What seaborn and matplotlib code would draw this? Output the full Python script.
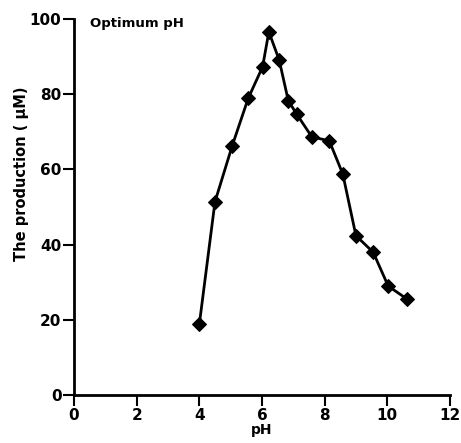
import matplotlib
matplotlib.use("Agg")
import matplotlib.pyplot as plt
import seaborn as sns
import pandas as pd

# valores
ph = [4.0, 4.5, 5.05, 5.56, 6.02, 6.22, 6.55, 6.84, 7.11, 7.59, 8.15, 8.58, 9.0, 9.55, 10.03, 10.64]
produccion = [18.8, 51.4, 66.3, 78.9, 87.3, 96.6, 89.1, 78.3, 74.7, 68.7, 67.6, 58.8, 42.4, 38.0, 29.0, 25.5]

x_ticks = [0, 2, 4, 6, 8, 10, 12]
y_ticks = [0, 20, 40, 60, 80, 100]

df = pd.DataFrame({"pH": ph, "produccion": produccion})

sns.set_style("ticks")
plt.rcParams['font.family'] = ['DejaVu Sans']
plt.rcParams['font.weight'] = 'bold'
plt.rcParams['text.color'] = 'black'
plt.rcParams['axes.labelcolor'] = 'black'
plt.rcParams['xtick.color'] = 'black'
plt.rcParams['ytick.color'] = 'black'

fig = plt.figure(figsize=(4.61, 4.43), dpi=100)
ax = fig.add_axes([0.1605, 0.108, 0.8155, 0.849])

sns.lineplot(data=df, x="pH", y="produccion", ax=ax, color="black",
             linewidth=2, marker="D", markersize=7, markeredgecolor="black",
             markerfacecolor="black")

ax.set_xlim(0, 12)
ax.set_ylim(0, 100)
ax.set_xticks(x_ticks)
ax.set_yticks(y_ticks)
ax.tick_params(axis="both", direction="out", length=8, width=1.5,
               labelsize=11, pad=1, colors="black")
for lbl in ax.get_xticklabels() + ax.get_yticklabels():
    lbl.set_fontweight("bold")

for s in ["top", "right"]:
    ax.spines[s].set_visible(False)
for s in ["left", "bottom"]:
    ax.spines[s].set_linewidth(2)
    ax.spines[s].set_color("black")

ax.set_xlabel("pH", fontsize=10, fontweight="bold", labelpad=0)
ax.set_ylabel("The production ( \u03bcM)", fontsize=10.5, fontweight="bold")
ax.yaxis.set_label_coords(-0.12, 0.59)
ax.text(0.5, 100.5, "Optimum pH", fontsize=9.5, fontweight="bold", va="top", ha="left")

fig.savefig("out.png", dpi=100)
